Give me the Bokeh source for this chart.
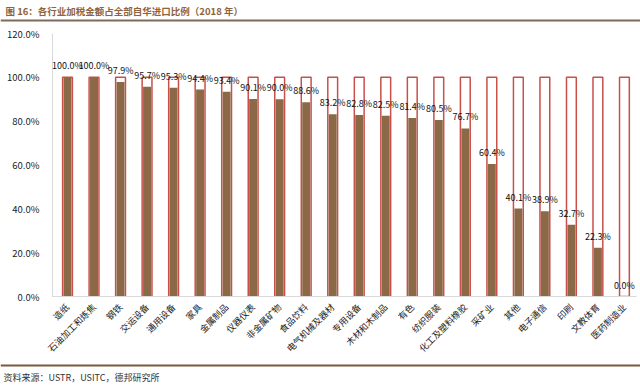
from bokeh.plotting import figure
from bokeh.layouts import column
from bokeh.models import (ColumnDataSource, Range1d, FixedTicker, PrintfTickFormatter,
                          LabelSet, Span)
from bokeh.core.properties import value
from bokeh.embed import file_html
from bokeh.resources import INLINE

categories = ["造纸", "石油加工和炼焦", "钢铁", "交运设备", "通用设备", "家具", "金属制品",
              "仪器仪表", "非金属矿物", "食品饮料", "电气机械及器材", "专用设备",
              "木材和木制品", "有色", "纺织服装", "化工及塑料橡胶", "采矿业", "其他",
              "电子通信", "印刷", "文教体育", "医药制造业"]
shares = [100.0, 100.0, 97.9, 95.7, 95.3, 94.4, 93.4, 90.1, 90.0, 88.6, 83.2, 82.8,
          82.5, 81.4, 80.5, 76.7, 60.4, 40.1, 38.9, 32.7, 22.3, 0.0]
totals = [100.0] * len(categories)
y_ticks = [0, 20, 40, 60, 80, 100, 120]

title_text = "图 16：各行业加税金额占全部自华进口比例（2018 年）"
source_text = "资料来源：USTR，USITC，德邦研究所"

FONT = "Noto Sans CJK SC"
W = 640


def bare(h):
    f = figure(width=W, height=h, output_backend="svg", toolbar_location=None,
               x_range=Range1d(0, W), y_range=Range1d(h, 0),
               x_axis_location=None, y_axis_location=None,
               min_border=0, min_border_left=0, min_border_right=0,
               min_border_top=0, min_border_bottom=0)
    f.frame_align = False
    f.outline_line_color = None
    f.grid.grid_line_color = None
    f.background_fill_color = "white"
    f.border_fill_color = "white"
    return f


# header: title and rule
header = bare(24)
header.text(x=[5], y=[10], text=[title_text], text_font=value(FONT),
            text_font_size="9.5px", text_font_style="bold", text_baseline="middle",
            text_align="left", text_color="#91633a")
header.add_layout(Span(location=20, dimension="width", line_color="#7d6b5b", line_width=2))

# main chart
idx = list(range(len(categories)))
src = ColumnDataSource(dict(
    x=idx, share=shares, total=totals,
    label=[f"{v:.1f}%" for v in shares],
))

p = figure(width=W, height=338, output_backend="svg", toolbar_location=None,
           x_range=Range1d(-0.5656, 21.455), y_range=Range1d(0, 120),
           min_border_left=52, min_border_right=4, min_border_top=9, min_border_bottom=65)
p.frame_align = False
p.outline_line_color = None
p.xgrid.grid_line_color = None
p.ygrid.grid_line_color = None
p.background_fill_color = "white"
p.border_fill_color = "white"

p.vbar(x="x", top="total", width=0.37, bottom=0, source=src,
       fill_color="white", line_color="#c8504b", line_width=1.5)
p.vbar(x="x", top="share", width=0.30, bottom=0, source=src,
       fill_color="#8c6946", line_color=None)

labels = LabelSet(x="x", y="share", text="label", source=src, y_offset=5,
                  text_align="center", text_baseline="bottom",
                  text_font=value(FONT), text_font_size=value("9px"),
                  text_color=value("#111111"))
p.add_layout(labels)

p.yaxis.ticker = FixedTicker(ticks=y_ticks)
p.yaxis.formatter = PrintfTickFormatter(format="%.1f%%")
p.yaxis.major_tick_line_color = None
p.yaxis.minor_tick_line_color = None
p.yaxis.axis_line_color = "#d9d9d9"
p.yaxis.major_label_text_font = FONT
p.yaxis.major_label_text_font_size = "9.5px"
p.yaxis.major_label_text_color = "#222222"
p.yaxis.major_label_standoff = 7

p.xaxis.ticker = FixedTicker(ticks=idx)
p.xaxis.major_label_overrides = {i: c for i, c in zip(idx, categories)}
p.xaxis.major_label_orientation = 0.785398
p.xaxis.major_tick_line_color = None
p.xaxis.minor_tick_line_color = None
p.xaxis.axis_line_color = "#d9d9d9"
p.xaxis.major_label_text_font = FONT
p.xaxis.major_label_text_font_size = "9px"
p.xaxis.major_label_text_color = "#222222"
p.xaxis.major_label_standoff = 3

# footer: rule and source
footer = bare(24)
footer.add_layout(Span(location=3, dimension="width", line_color="#7a5a3c", line_width=2))
footer.text(x=[3], y=[15], text=[source_text], text_font=value(FONT),
            text_font_size="9px", text_baseline="middle", text_align="left",
            text_color="#333333")

layout = column(header, p, footer, spacing=0)
open("out.html", "w").write(file_html(layout, INLINE))
